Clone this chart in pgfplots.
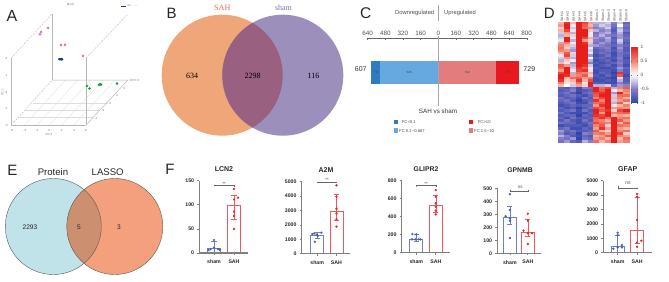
\documentclass[border=0pt]{standalone}
\usepackage{fontspec}
\setmainfont{Liberation Sans}
\newfontfamily\serifx{Liberation Serif}
\usepackage{pgfplots}
\usepackage{pgfplotstable}
\pgfplotsset{compat=1.18}
\definecolor{vor}{HTML}{EFA679}
\definecolor{vpu}{HTML}{9D8FBB}
\definecolor{vov}{HTML}{99607F}
\definecolor{vsah}{HTML}{E8704F}
\definecolor{vsh}{HTML}{7E6FB0}
\definecolor{ecy}{HTML}{BFE3E9}
\definecolor{eor}{HTML}{F4A07C}
\definecolor{eov}{HTML}{CC9070}
\definecolor{cdb}{HTML}{2E7BC1}
\definecolor{clb}{HTML}{66A9E0}
\definecolor{cpk}{HTML}{E37C7C}
\definecolor{crd}{HTML}{E8191E}
\definecolor{fbl}{HTML}{6F80C4}
\definecolor{frd}{HTML}{F2575C}
\definecolor{fpt}{HTML}{E8202A}
\definecolor{fpb}{HTML}{4A5DB5}
\definecolor{fax}{HTML}{808080}
\definecolor{apk}{HTML}{CF72B8}
\definecolor{agr}{HTML}{1E9A4A}
\definecolor{anv}{HTML}{1F3C78}
\definecolor{agl}{HTML}{B8B8B8}
\definecolor{agf}{HTML}{DEDEDE}
\newcommand\tx[4]{\node[inner sep=0pt,font=\fontsize{#1}{#1}\selectfont,text=#2] at (axis cs:#3) {#4};}
\pgfplotstableread[header=false]{
.3 .9 .3 1 .8 .4 -.3 -.3 -.2 -.5 -.2 -.7
.4 1 .1 1 .7 .3 -.4 -.2 -.3 -.6 .0 -.6
.2 1 -.2 1 .6 .5 -.5 -.4 -.2 -.7 -.3 -.7
.3 .8 -.1 1 1 .2 -.3 -.5 -.4 -.8 -.2 -.6
-.2 .4 -.3 1 1 .1 -.6 -.4 -.3 -.7 -.3 -.8
-.3 .3 .2 1 1 -.1 -.5 -.3 -.5 -.6 -.4 -.7
-.2 1 -.1 1 .8 .3 -.4 -.5 -.3 -.8 -.4 -.6
-.1 1 -.3 1 .4 .2 -.5 -.6 -.4 -.7 -.2 -.7
.4 .5 .1 1 .9 -.2 -.6 -.4 -.5 -.8 -.3 -.8
.5 .3 -.2 1 1 -.3 -.4 -.5 -.6 -.7 -.5 -.7
.6 .2 -.3 1 1 .1 -.7 -.6 -.5 -.9 -.4 -.8
.5 .4 -.4 1 1 -.2 -.8 -.7 -.6 -.8 -.5 -.8
.3 .7 .2 1 1 -.1 -.8 -.6 -.7 -.9 -.6 -.7
.1 .8 -.2 1 1 -.4 -.9 -.8 -.6 -.9 -.6 -.8
-.2 .4 -.3 1 1 .0 -.8 -.7 -.8 -.8 -.5 -.9
-.3 .2 .1 1 1 -.3 -.9 -.8 -.7 -.9 -.6 -.8
.3 .1 -.4 1 1 -.5 -.8 -.9 -.8 -.7 -.5 -.8
.7 .4 -.3 1 .9 -.2 -.9 -.8 -.7 -.9 -.6 -.9
.6 1 -.2 .9 .7 .1 -.8 -.9 -.9 -.8 -.4 -.7
.4 1 .1 .8 .9 -.1 -.9 -.8 -.8 -.9 -.5 -.8
.8 1 -.3 .6 .5 .3 -.9 -.7 -.8 -1 .9 -.8
1 .9 .4 .5 .7 .2 -.8 -.9 -.7 -.9 .7 -.9
1 .3 .6 .7 .4 .5 -.9 -.8 -.9 -1 .2 -.8
.9 .2 .3 .9 .3 .8 -.9 -.9 -.8 -.9 -.3 -.8
.5 -.1 .2 .6 .1 1 -.8 -.8 -.9 -.9 -.5 -.7
.3 .0 -.2 .4 .2 1 -.3 -.3 -.2 -.7 -.4 -.5
-.7 -.8 -.6 -.9 -.5 -.6 1 .6 .8 -.3 .5 .7
-.8 -.7 -.5 -.9 -.8 -.7 1 .7 1 .1 .3 .5
-.7 -.6 -.8 -1 -.7 -.6 .8 .9 1 -.4 1 .4
-.8 -.7 -.6 -.8 -.9 -.7 .7 1 1 -.2 .6 .6
-.6 -.8 -.7 -.9 -.6 -.8 .5 .8 1 .3 .5 .3
-.7 -.6 -.8 -1 -.8 -.7 .9 .5 1 -.2 .4 .6
-.8 -.7 -.6 -.9 -.9 -.6 .6 .7 1 -.3 .7 .2
-.9 -.8 -.7 -.8 -.7 -.7 .4 .9 1 .1 .3 .5
-.7 -.9 -.8 -1 -.8 -.6 .8 .6 1 .4 .5 .4
-.8 -.7 -.6 -.9 -.6 -.8 1 .7 .9 .2 .8 1
-.6 -.8 -.9 -.9 -.9 -.7 1 .4 1 .5 .6 .7
-.8 -.7 -.7 -1 -.7 -.8 .9 .8 1 .3 .4 .3
-.7 -.9 -.6 -.8 -.8 -.7 .7 .9 .6 1 .5 .6
-.8 -.6 -.8 -.9 -.6 -.8 .6 .5 .3 1 .7 .4
-.6 -.7 -.7 -.9 -.8 -.6 .8 .6 .5 1 .3 .7
-.9 -.8 -.8 -.8 -.9 -.7 .5 .7 .2 1 .6 .5
-.7 -.6 -.9 -.9 -.7 -.8 .4 .9 .4 1 .4 .3
-.4 -.7 -.6 -.8 -.8 -.7 .7 .3 .2 1 .5 .6
-.5 -.8 -.7 -1 -.5 -.6 .5 .6 .4 1 .8 .2
-.3 -.5 -.8 -.9 -.7 -.8 .3 .4 .7 1 .5 .4
-.5 -.6 -.4 -1 -.6 -.7 .4 .5 .3 1 .3 .6
-.6 -.4 -.7 -.8 -.3 -.5 .6 .3 .5 1 .4 .5
}\heat
\pgfplotsset{
 fpanel/.style={
  scale only axis, clip=false, axis on top,
  axis x line=bottom, axis y line=left,
  axis line style={-,fax,line width=1.1pt},
  tick style={fax,line width=.7pt},
  major tick length=2.2pt, tick align=outside,
  xtick={1,2}, xticklabels={sham,SAH},
  ymin=0,
  tick label style={font=\fontsize{5.2}{6}\selectfont\bfseries,text=black!85},
  /pgf/number format/assume math mode=true,
  /pgf/number format/1000 sep={},
  scaled y ticks=false,
  xticklabel style={yshift=-1.2pt},
  yticklabel style={xshift=.5pt},
 },
 fbar/.style={ybar,bar shift=0pt,bar width=#1pt,fill=white,line width=.9pt},
 ferr/.style={draw=none,mark=none,forget plot,error bars/.cd,y dir=both,y explicit,
   error mark options={rotate=90,mark size=2.6pt,line width=.45pt,color=#1},
   error bar style={line width=.45pt,color=#1}},
 fpts/.style={only marks,mark=*,mark size=.95pt,color=#1},
 fbr/.style={color=black!60,line width=.35pt},
}
\begin{document}
\begin{tikzpicture}
\useasboundingbox (0,0) rectangle (669pt,281pt);
% ---- Venn B
\fill[vor] (222.2pt,205.8pt) circle[radius=60.5pt];
\fill[vpu] (282.8pt,205.8pt) circle[radius=60.5pt];
\begin{scope}
\clip (222.2pt,205.8pt) circle[radius=60.5pt];
\fill[vov] (282.8pt,205.8pt) circle[radius=60.5pt];
\end{scope}
% ---- Venn E
\fill[ecy] (53.3pt,54.5pt) circle[radius=48pt];
\fill[eor] (114.8pt,54.5pt) circle[radius=48pt];
\begin{scope}
\clip (53.3pt,54.5pt) circle[radius=48pt];
\fill[eov] (114.8pt,54.5pt) circle[radius=48pt];
\end{scope}
\draw[black!65,line width=.4pt] (53.3pt,54.5pt) circle[radius=48pt];
\draw[black!65,line width=.4pt] (114.8pt,54.5pt) circle[radius=48pt];
% ---- Panel C bar
\begin{axis}[at={(367.6pt,181pt)},scale only axis,width=159.1pt,height=61.7pt,
  xmin=-640,xmax=800,ymin=38.3,ymax=100,y dir=reverse,clip=false,
  axis x line*=top,axis y line=none,axis line style={-,black!60,line width=.4pt},
  xtick={-640,-480,-320,-160,0,160,320,480,640,800},
  xticklabels={640,480,320,160,0,160,320,480,640,800},
  tick align=inside,major tick length=2pt,tick style={black!60,line width=.4pt},
  xticklabel style={font=\fontsize{6.3}{7}\selectfont,text=black!70,yshift=-1pt},
  /pgf/number format/assume math mode=true]
\addplot[xbar,bar shift=0pt,bar width=23pt,fill=cdb,draw=none] coordinates {(-607,72.8)};
\addplot[xbar,bar shift=0pt,bar width=23pt,fill=clb,draw=none] coordinates {(-528,72.8)};
\addplot[xbar,bar shift=0pt,bar width=23pt,fill=crd,draw=none] coordinates {(729,72.8)};
\addplot[xbar,bar shift=0pt,bar width=23pt,fill=cpk,draw=none] coordinates {(522,72.8)};
\end{axis}
% ---- Panel D heatmap
\begin{axis}[at={(559pt,138.3pt)},scale only axis,width=70pt,height=120.4pt,
  xmin=-.5,xmax=11.5,ymin=-.5,ymax=47.5,y dir=reverse,clip=true,
  axis line style={draw=none},ytick=\empty,
  xtick={0,...,11},xticklabels={SAH-1,SAH-2,SAH-3,SAH-4,SAH-5,SAH-6,Sham-1,Sham-2,Sham-3,Sham-4,Sham-5,Sham-6},
  xticklabel pos=upper,major tick length=0pt,
  xticklabel style={rotate=90,anchor=west,font=\fontsize{3.5}{4}\selectfont,text=black!70,inner sep=.6pt},
  colormap={hm}{rgb255(0)=(48,68,172) rgb255(25)=(135,125,200) rgb255(50)=(255,255,255) rgb255(75)=(242,130,110) rgb255(100)=(232,30,28)},
  point meta min=-1,point meta max=1,
  colorbar,
  colorbar style={at={(1.029,.797)},anchor=north west,width=7pt,height=56pt,
    ytick={-1,-.5,0,.5,1},major tick length=1pt,tick style={black!60,line width=.3pt},axis line style={draw=none},
    yticklabel style={font=\fontsize{4.8}{5}\selectfont,text=black!70,xshift=-1pt},
    /pgf/number format/assume math mode=true},
  scatter/use mapped color={draw=mapped color,fill=mapped color,line width=0pt}]
\pgfplotsinvokeforeach{0,...,11}{
\addplot[scatter,only marks,point meta=explicit,mark=square*,mark size=1pt,mark options={xscale=3,yscale=1.4}] table[x expr=#1,y expr=\coordindex,meta index=#1]{\heat};
}
\end{axis}
% ---- Panel F: LCN2
\begin{axis}[fpanel,at={(199.3pt,28pt)},width=49pt,height=72.3pt,xmin=.265,xmax=2.715,ymax=150,ytick={0,50,100,150}]
\addplot[fbar=13,draw=fbl] coordinates {(1,9)};
\addplot[fbar=13,draw=frd] coordinates {(2,98)};
\addplot[ferr=fbl] coordinates {(1,9) += (0,16) -= (0,9)};
\addplot[ferr=frd] coordinates {(2,98) += (0,22) -= (0,28)};
\addplot[fpts=fpb] coordinates {(1,27)(.83,8)(1,11)(1.2,8)(.73,6)(1.28,7)};
\addplot[fpts=fpt] coordinates {(2,133)(2.2,115)(2,111)(2,86)(2,77)(2,50)};
\addplot[fbr] coordinates {(1,141)(1,139)(1,140)(2,140)(2,139)};
\end{axis}
% ---- A2M
\begin{axis}[fpanel,at={(301.7pt,27.3pt)},width=48.3pt,height=72pt,xmin=.2,xmax=2.7,ymax=5000,ytick={0,1000,2000,3000,4000,5000}]
\addplot[fbar=13,draw=fbl] coordinates {(1,1300)};
\addplot[fbar=13,draw=frd] coordinates {(2,2940)};
\addplot[ferr=fbl] coordinates {(1,1300) += (0,200) -= (0,200)};
\addplot[ferr=frd] coordinates {(2,2940) += (0,1180) -= (0,600)};
\addplot[fpts=fpb] coordinates {(.75,1365)(.85,1410)(1.03,1230)(1.22,1458)(.88,833)(.97,1320)};
\addplot[fpts=fpt] coordinates {(2,4745)(2,3960)(2,3125)(2,2800)(2,2400)(2,1875)};
\addplot[fbr] coordinates {(1,4950)(1,5000)(2,5000)(2,4950)};
\end{axis}
% ---- GLIPR2
\begin{axis}[fpanel,at={(401.7pt,28.3pt)},width=48.3pt,height=72pt,xmin=.25,xmax=2.73,ymax=800,ytick={0,200,400,600,800}]
\addplot[fbar=13,draw=fbl] coordinates {(1,152)};
\addplot[fbar=13,draw=frd] coordinates {(2,526)};
\addplot[ferr=fbl] coordinates {(1,152) += (0,55) -= (0,19)};
\addplot[ferr=frd] coordinates {(2,526) += (0,111) -= (0,74)};
\addplot[fpts=fpb] coordinates {(.8,207)(1,204)(.78,148)(.95,148)(1.12,148)(1.22,148)};
\addplot[fpts=fpt] coordinates {(2,696)(2,622)(2,548)(2,511)(2,467)(2,426)};
\addplot[fbr] coordinates {(1,755)(1,735)(1,745)(2,745)(2,735)};
\end{axis}
% ---- GPNMB
\begin{axis}[fpanel,at={(497.3pt,27.7pt)},width=44pt,height=65pt,xmin=.3,xmax=2.75,ymax=500,ytick={0,100,200,300,400,500}]
\addplot[fbar=13,draw=fbl] coordinates {(1,277)};
\addplot[fbar=13,draw=frd] coordinates {(2,161)};
\addplot[ferr=fbl] coordinates {(1,277) += (0,87) -= (0,57)};
\addplot[ferr=frd] coordinates {(2,161) += (0,100) -= (0,28)};
\addplot[fpts=fpb] coordinates {(1,454)(1,333)(.76,285)(1,269)(1,251)(1,118)};
\addplot[fpts=fpt] coordinates {(2,305)(2,251)(1.76,174)(2,154)(2.24,154)(2,72)};
\addplot[fbr] coordinates {(1,485)(1,480)(2,480)(2,485)};
\end{axis}
% ---- GFAP
\begin{axis}[fpanel,at={(603.3pt,28.3pt)},width=48.4pt,height=72pt,xmin=.26,xmax=2.75,ymax=5000,ytick={0,1000,2000,3000,4000,5000}]
\addplot[fbar=13,draw=fbl] coordinates {(1,440)};
\addplot[fbar=13,draw=frd] coordinates {(2,1550)};
\addplot[ferr=fbl] coordinates {(1,440) += (0,740) -= (0,440)};
\addplot[ferr=frd] coordinates {(2,1550) += (0,2270) -= (0,900)};
\addplot[fpts=fpb] coordinates {(1,1390)(1,1227)(1.22,532)(1,370)(1.22,370)(.78,278)};
\addplot[fpts=fpt] coordinates {(2,4074)(2,3889)(2,2270)(2.22,833)(2,717)(2,417)};
\addplot[fbr] coordinates {(1,4600)(1,4400)(1,4500)(2,4500)(2,4400)};
\end{axis}
% ---- pixel-space overlay: Panel A, texts
\begin{axis}[at={(0pt,0pt)},scale only axis,width=669pt,height=281pt,xmin=0,xmax=669,ymin=0,ymax=281,y dir=reverse,hide axis,clip=false]
% Panel letters
\tx{16}{black!85}{12,16}{A}
\tx{15}{black!85}{171.5,13}{B}
\tx{15.5}{black!85}{365.7,13}{C}
\tx{15}{black!85}{549.3,13.3}{D}
\tx{15}{black!85}{12.5,170}{E}
\tx{15}{black!85}{170,169.3}{F}
% Panel A frame (pixel space)
\draw[agf,line width=.3pt] (25,110)--(100,110) (19,117)--(93,117);
\draw[agf,line width=.3pt] (24.5,125)--(65.5,80) (37,125)--(78,80) (49.3,125)--(90.5,80) (61.7,125)--(103,80) (74,125)--(115,80);
\draw[agf,line width=.6pt] (33,103)--(108,103);
\draw[agl,line width=.9pt] (11.3,58)--(11.3,125)--(86,125) (86,58)--(86,125) (52,80)--(52,14);
\draw[agl,line width=.5pt] (86,125)--(128,80)--(52,80);
\draw[agl,line width=.4pt,dash pattern=on 2pt off 1.2pt] (11.3,125)--(52,80) (11.3,58)--(52,14) (86,58)--(128,14);
\tx{3}{black!55}{70.5,4.5}{Mock}
\draw[anv,line width=.8pt] (120.5,6)--(125.5,6);
\tx{2.6}{black!55}{129,6}{ctrl}
\tx{2.6}{black!55}{136,6}{—}
\tx{3}{black!55}{12,130}{-6}\tx{3}{black!55}{24.7,130}{-4}\tx{3}{black!55}{37,130}{-2}\tx{3}{black!55}{49.3,130}{0}\tx{3}{black!55}{61.7,130}{2}\tx{3}{black!55}{74,130}{4}\tx{3}{black!55}{86,130}{6}
\tx{3}{black!55}{49,134.5}{PC 2}
\tx{3}{black!55}{6.5,58}{2}\tx{3}{black!55}{6.5,75}{1}\tx{3}{black!55}{6.5,92}{0}\tx{3}{black!55}{6.5,108.5}{-1}\tx{3}{black!55}{6.5,125}{-2}
\node[inner sep=0,rotate=90,font=\fontsize{3}{3}\selectfont,text=black!55] at (axis cs:2.5,92) {PC 1};
\tx{3}{black!55}{131,80}{8}\tx{3}{black!55}{124.5,88}{6}\tx{3}{black!55}{117,95}{4}\tx{3}{black!55}{110.5,103}{2}\tx{3}{black!55}{103.5,110}{0}\tx{3}{black!55}{96,118}{-2}
\tx{3}{black!55}{136,80}{PC 3}
\addplot[only marks,mark=*,mark size=1.15pt,color=apk] coordinates {(48,28)(41,32)(40,34.3)(61,45)(65,44.7)(83,56)};
\addplot[only marks,mark=*,mark size=1.05pt,color=anv] coordinates {(59.3,59.2)(60.3,59.2)(61.5,59.2)(62,59.2)};
\addplot[only marks,mark=*,mark size=1.15pt,color=agr] coordinates {(87,86)(89.5,88.5)(99,85)(100,84.3)(101,84.5)(117,83.5)};
% Venn B text
\tx{8}{black}{192,75.5}{\serifx 634}
\tx{8}{black}{252.5,75.5}{\serifx 2298}
\tx{8}{black}{313.5,75.5}{\serifx 116}
\tx{8.2}{vsah}{222.3,7.5}{\serifx SAH}
\tx{8}{vsh}{283.5,7.5}{\serifx sham}
% Venn E text
\tx{9.6}{black!85}{53,172.5}{Protein}
\tx{9.6}{black!85}{107.7,172.3}{LASSO}
\tx{6.6}{black!85}{30,227}{2293}
\tx{6.6}{black!85}{79,227}{5}
\tx{6.6}{black!85}{119,227}{3}
% Panel C text
\draw[black!35,line width=.5pt] (438.3,5)--(438.3,21) (438.3,36)--(438.3,106);
\tx{5.8}{black!70}{414.7,13.3}{Downregulated}
\tx{5.8}{black!70}{460,13.3}{Upregulated}
\tx{7}{black!80}{360.7,69.5}{607}
\tx{7}{black!80}{529.3,69.5}{729}
\tx{6.3}{black!80}{438,111.5}{SAH vs sham}
\tx{3}{black!75}{376,72.8}{79}
\tx{3}{black!75}{409,72.8}{528}
\tx{3}{black!75}{467.5,72.8}{522}
\tx{3}{black!75}{507.5,72.8}{207}
\fill[cdb] (393.7,119.7) rectangle (398.3,124.3);
\fill[clb] (393.7,128.4) rectangle (398.3,133);
\fill[crd] (468.7,119.7) rectangle (473.3,124.3);
\fill[cpk] (468.7,128.4) rectangle (473.3,133);
\node[anchor=west,inner sep=0,font=\fontsize{4.2}{4}\selectfont,text=black!70] at (axis cs:401.7,122) {FC<0.1};
\node[anchor=west,inner sep=0,font=\fontsize{4.2}{4}\selectfont,text=black!70] at (axis cs:399,130.7) {FC 0.1\textasciitilde 0.667};
\node[anchor=west,inner sep=0,font=\fontsize{4.2}{4}\selectfont,text=black!70] at (axis cs:477.7,122) {FC>10};
\node[anchor=west,inner sep=0,font=\fontsize{4.2}{4}\selectfont,text=black!70] at (axis cs:474,130.7) {FC 1.5\textasciitilde 10};
% Panel F text
\tx{7}{black!85}{224,169.3}{\bfseries LCN2}
\tx{7}{black!85}{326,169.7}{\bfseries A2M}
\tx{6.8}{black!85}{426,169.3}{\bfseries GLIPR2}
\tx{6.8}{black!85}{520,170}{\bfseries GPNMB}
\tx{7}{black!85}{627.7,168.7}{\bfseries GFAP}
\tx{4.5}{black!70}{224,184}{**}
\tx{4.5}{black!70}{327,180}{**}
\tx{4.5}{black!70}{426,183.5}{**}
\tx{4.5}{black!70}{520.3,187.5}{ns}
\tx{5}{black!70}{628,183.5}{ns}
\end{axis}
\end{tikzpicture}
\end{document}
